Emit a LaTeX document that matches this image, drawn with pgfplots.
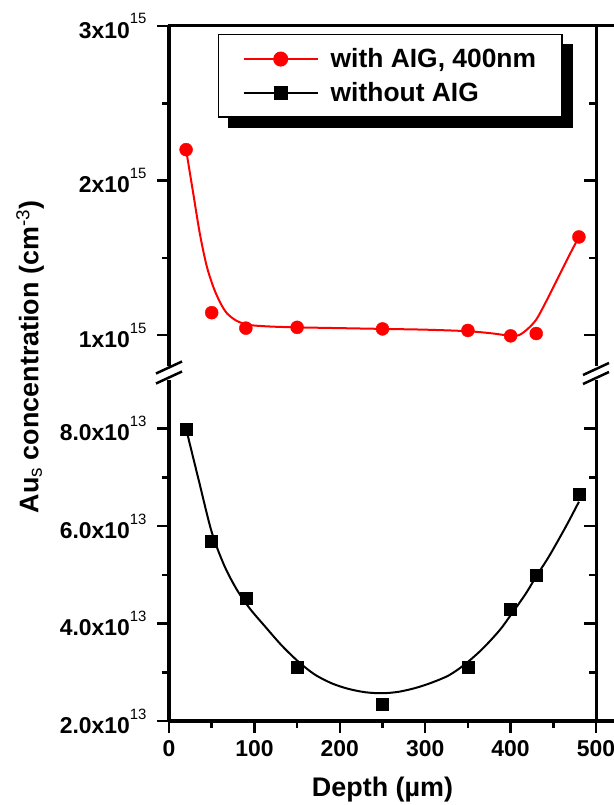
\documentclass[border=0pt]{standalone}
\usepackage{fontspec}
\setmainfont{Liberation Sans}
\usepackage{pgfplots}
\pgfplotsset{compat=1.18}
\usetikzlibrary{backgrounds}

\pgfplotstableread{
x y
20 2.20
50 1.145
90 1.045
150 1.05
250 1.04
350 1.03
400 0.995
430 1.01
480 1.635
}\redpts

\pgfplotstableread{
x y
20 2.20
28 1.93
36 1.66
44 1.45
52 1.31
60 1.21
68 1.14
80 1.09
95 1.065
120 1.055
150 1.05
200 1.045
250 1.04
300 1.035
350 1.025
380 1.01
400 0.995
410 1.00
420 1.04
430 1.10
440 1.20
450 1.31
460 1.42
470 1.53
480 1.635
}\redfit

\pgfplotstableread{
x y
20 8.00
50 5.69
90 4.53
150 3.10
250 2.34
350 3.10
400 4.29
430 5.00
480 6.66
}\blackpts

\pgfplotstableread{
x y
20 8.00
35 6.93
50 5.88
65 5.18
80 4.68
95 4.30
113 3.93
132 3.55
152 3.21
171 2.95
191 2.77
210 2.66
230 2.59
250 2.57
269 2.60
289 2.68
308 2.79
328 2.94
347 3.17
367 3.48
387 3.86
400 4.17
418 4.62
430 4.97
445 5.38
465 6.00
480 6.50
}\blackfit

\newcommand{\sups}[1]{\raisebox{0.62em}{\fontsize{15}{15}\selectfont\mdseries #1}}

\pgfplotsset{
  common/.style={
    scale only axis, width=427bp, xmin=0, xmax=500,
    anchor=south west,
    axis line style={draw=none},
    tick style={line width=2.5bp, black},
    major tick length=12bp, minor tick length=7bp,
    tick label style={font=\fontsize{23}{25}\selectfont\bfseries},
    yticklabel style={xshift=-7bp},
    xticklabel style={yshift=-4bp},
  },
}

\begin{document}
\begin{tikzpicture}[x=1bp,y=1bp]
\useasboundingbox (-169bp,-84bp) rectangle (445bp,721bp);

% lower panel
\begin{axis}[common, at={(0bp,0bp)}, height=341bp,
  ymin=2, ymax=9,
  ytick={2,4,6,8}, minor ytick={3,5,7},
  yticklabels={2.0x10\sups{13},4.0x10\sups{13},6.0x10\sups{13},8.0x10\sups{13}},
  xtick={0,100,200,300,400,500}, minor xtick={50,150,250,350,450},
  xticklabels={0,100,200,300,400,500},
  ytick pos=left, xtick pos=bottom, tick align=outside]
\addplot[black, line width=2bp, smooth, forget plot] table {\blackfit};
\addplot[black, only marks, mark=square*, mark size=6bp, forget plot] table {\blackpts};
\end{axis}
\begin{axis}[common, at={(0bp,0bp)}, height=341bp,
  ymin=2, ymax=9, ytick={2,4,6,8}, minor ytick={3,5,7},
  yticklabels={}, xtick=\empty, ytick pos=right, tick align=inside]
\end{axis}

% upper panel
\begin{axis}[common, at={(0bp,355bp)}, height=340bp,
  ymin=0.8, ymax=3,
  ytick={1,2,3}, minor ytick={1.5,2.5},
  yticklabels={1x10\sups{15},2x10\sups{15},3x10\sups{15}},
  xtick=\empty, ytick pos=left, tick align=outside,
  legend cell align=left,
  legend image code/.code={\draw[#1] (0bp,0bp) -- (74bp,0bp); \draw[#1] plot coordinates {(37bp,0bp)};},
  legend style={name=leg, at={(0.115,0.976)}, anchor=north west, draw=black, line width=1.2bp,
    fill=white,
    font=\fontsize{26.5}{28}\selectfont\bfseries,
    inner xsep=24bp, inner ysep=12bp, row sep=9bp, column sep=10bp}]
\addplot[red, line width=2bp, smooth, forget plot] table {\redfit};
\addplot[red, only marks, mark=*, mark size=6.5bp, forget plot] table {\redpts};
\addlegendimage{red, line width=2bp, mark=*, mark size=6.5bp}
\addlegendentry{with AIG, 400nm}
\addlegendimage{black, line width=2bp, mark=square*, mark size=6bp}
\addlegendentry{without AIG}
\end{axis}
\begin{axis}[common, at={(0bp,355bp)}, height=340bp,
  ymin=0.8, ymax=3, ytick={1,2,3}, minor ytick={1.5,2.5},
  yticklabels={}, xtick=\empty, ytick pos=right, tick align=inside]
\end{axis}

\begin{scope}[on background layer]
\fill[black] ([xshift=10bp,yshift=-10bp]leg.south west) rectangle ([xshift=10bp,yshift=-10bp]leg.north east);
\end{scope}

% frame lines
\draw[line width=3bp] (0,0) -- (0,341);
\draw[line width=3bp] (427,0) -- (427,341);
\draw[line width=3bp] (-1.5,0) -- (445,0);
\draw[line width=3bp] (0,355) -- (0,695);
\draw[line width=3bp] (427,355) -- (427,695);
\draw[line width=3bp] (-1.5,695) -- (445,695);
% break marks
\draw[line width=2.5bp] (-13,347.5) -- (13,359.5);
\draw[line width=2.5bp] (-13,337.5) -- (13,349.5);
\draw[line width=2.5bp] (414,346) -- (440,358);
\draw[line width=2.5bp] (414,337) -- (440,349);

% labels
\node[font=\fontsize{27}{29}\selectfont\bfseries] at (213.5,-69) {Depth (µm)};
\node[rotate=90, font=\fontsize{27}{29}\selectfont\bfseries] at (-139,364)
  {Au\textsubscript{\mdseries s} concentration (cm\textsuperscript{\mdseries -3})};
\end{tikzpicture}
\end{document}
